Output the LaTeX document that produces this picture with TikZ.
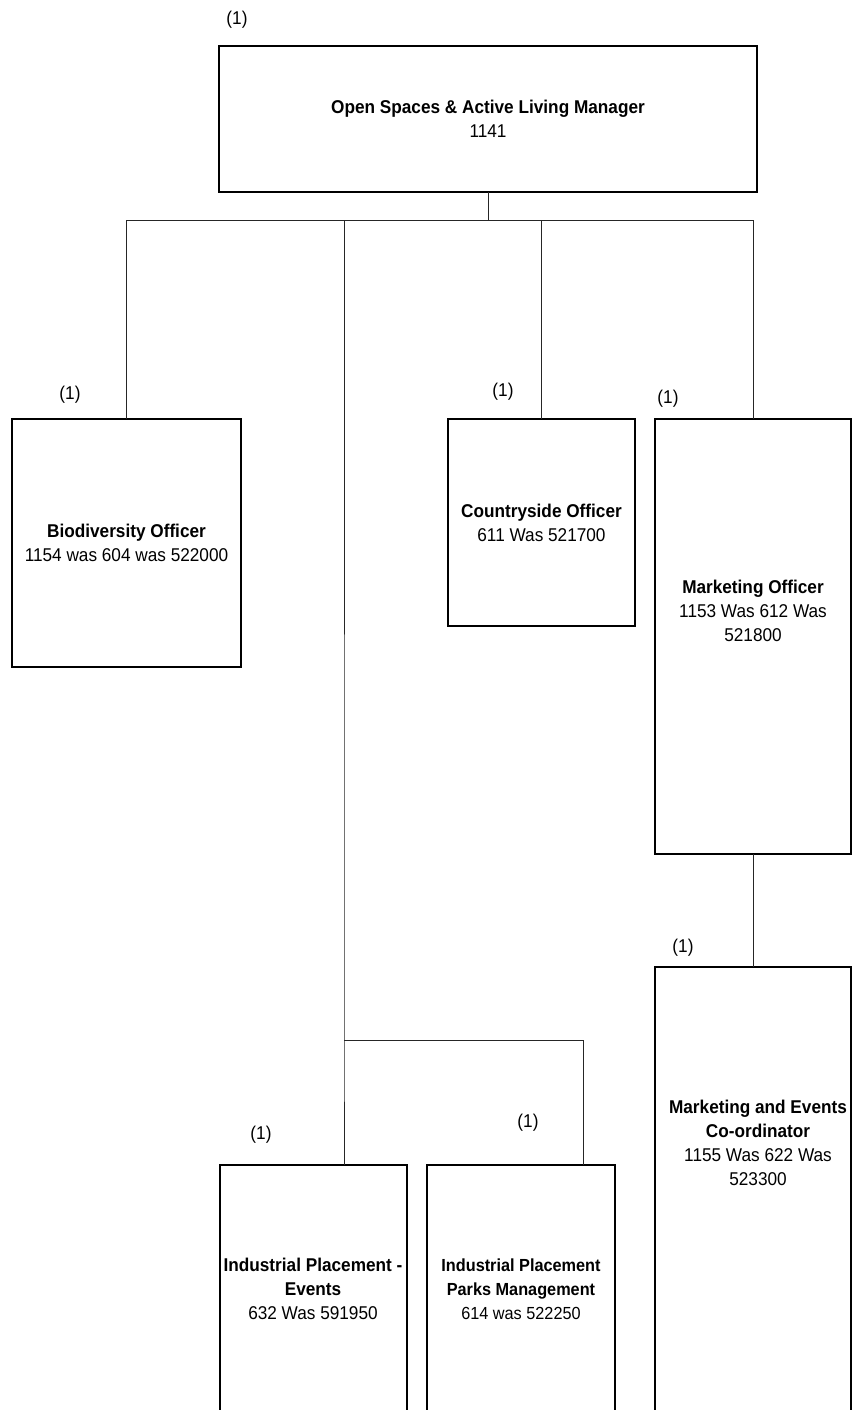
\documentclass[tikz,border=0pt]{standalone}
\usepackage{fontspec}
\setmainfont{Liberation Sans}[FakeStretch=0.93]
\begin{document}
\begin{tikzpicture}[x=1pt,y=-1pt,
  box/.style={draw=black,line width=1.6pt,rectangle,inner sep=0pt,outer sep=0pt,align=center,
    font=\fontsize{18.5}{24}\selectfont},
  txt/.style={align=center,inner sep=0pt,font=\fontsize{18.5}{24}\selectfont},
  cnt/.style={font=\fontsize{18.5}{20}\selectfont,inner sep=0pt},
  conn/.style={draw=black!85,line width=0.9pt}]
\clip (0,0) rectangle (852,1410);
\fill[white] (0,0) rectangle (852,1410);
% boxes
\node[box,minimum width=538pt,minimum height=146pt] (top) at (488,119)
  {\textbf{Open Spaces \& Active Living Manager}\\1141};
\node[box,minimum width=229pt,minimum height=248pt] (bio) at (126.5,543)
  {\textbf{Biodiversity Officer}\\1154 was 604 was 522000};
\node[box,minimum width=187pt,minimum height=207pt] (cso) at (541.5,522.5)
  {\textbf{Countryside Officer}\\611 Was 521700};
\node[box,minimum width=196pt,minimum height=435pt] (mko) at (753,636.5) {};
\node[txt] (mkot) at (753,611) {\textbf{Marketing Officer}\\1153 Was 612 Was\\521800};
\node[box,minimum width=196pt,minimum height=463pt] (mke) at (753,1198.5) {};
\node[txt] (mket) at (758,1143) {\textbf{Marketing and Events}\\\textbf{Co-ordinator}\\1155 Was 622 Was\\523300};
\node[box,minimum width=187pt,minimum height=265pt] (ipe) at (313.5,1297.5) {};
\node[txt] (ipet) at (313,1289) {\textbf{Industrial Placement -}\\\textbf{Events}\\632 Was 591950};
\node[box,minimum width=188pt,minimum height=265pt] (ipp) at (521,1297.5) {};
\node[txt,font=\fontsize{17.5}{24}\selectfont] (ippt) at (521,1289) {\textbf{Industrial Placement}\\\textbf{Parks Management}\\614 was 522250};
% counts
\node[cnt] (c0) at (237,20) {(1)};
\node[cnt] (c1) at (70,395) {(1)};
\node[cnt] (c2) at (503,392) {(1)};
\node[cnt] (c3) at (668,399) {(1)};
\node[cnt] (c4) at (683,948) {(1)};
\node[cnt] (c5) at (261,1135) {(1)};
\node[cnt] (c6) at (528,1123) {(1)};
% connectors
\coordinate (bus) at (488,220);
\coordinate (j2) at (344,1040);
\coordinate (j3) at (583,1040);
\draw[conn] (top.south) -- (bus);
\draw[conn] (bus) -| (bio.north);
\draw[conn] (bus) -| (cso.north);
\draw[conn] (bus) -| (mko.north);
\draw[conn] (bus) -| (j2) -- (j2 |- ipe.north);
\draw[conn] (j2) -- (j3) -- (j3 |- ipp.north);
\draw[conn] (mko.south) -- (mke.north);
\end{tikzpicture}
\end{document}
